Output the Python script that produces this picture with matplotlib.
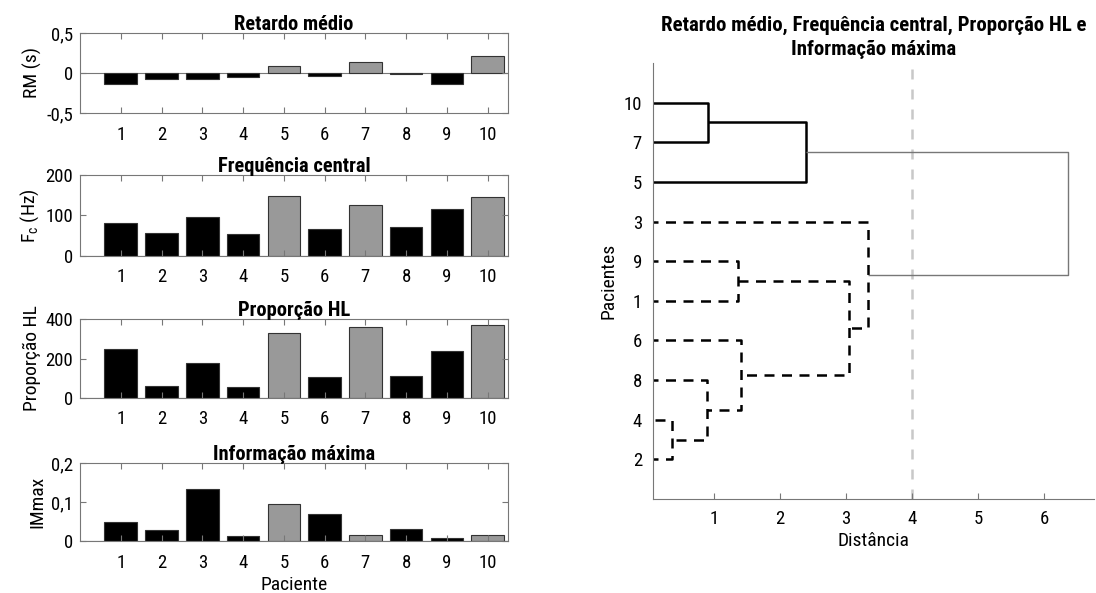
import numpy as np
import matplotlib
matplotlib.use("Agg")
from matplotlib import pyplot as plt

plt.rcParams['font.family'] = ['Roboto Condensed', 'DejaVu Sans']
plt.rcParams['mathtext.fontset'] = 'custom'
plt.rcParams['mathtext.rm'] = 'Roboto Condensed'
plt.rcParams['font.size'] = 13.5

# data
pacientes = np.arange(1, 11)
grupo_cinza = [5, 7, 10]
rm = [-0.14, -0.07, -0.08, -0.05, 0.085, -0.04, 0.135, -0.015, -0.14, 0.21]
fc = [81, 57, 96, 55, 147, 67, 125, 72, 115, 146]
hl = [246, 59, 175, 56, 329, 108, 361, 111, 240, 370]
im = [0.048, 0.027, 0.134, 0.014, 0.095, 0.070, 0.015, 0.030, 0.008, 0.016]

# dendrogram: leaf order (bottom->top) and merges (new, a, b, distance)
folhas = ['2', '4', '8', '6', '1', '9', '3', '5', '7', '10']
ligacoes = [
    ('A', '2', '4', 0.37),
    ('B', '8', 'A', 0.90),
    ('C', '10', '7', 0.91),
    ('D', '9', '1', 1.36),
    ('E', '6', 'B', 1.41),
    ('F', 'C', '5', 2.40),
    ('G', 'D', 'E', 3.04),
    ('H', '3', 'G', 3.33),
    ('I', 'F', 'H', 6.35),
]
corte = 4

W, H = 1096, 593
fig = plt.figure(figsize=(W / 100, H / 100), dpi=100)

def ax_px(l, t, r, b):
    return fig.add_axes([l / W, 1 - b / H, (r - l) / W, (b - t) / H])

spine_c = '#777777'
cores = ['#999999' if p in grupo_cinza else 'black' for p in pacientes]

paineis = [
    (rm, 'Retardo médio', 'RM (s)', (-0.5, 0.5), [-0.5, 0, 0.5], ['-0,5', '0', '0,5'], 33, 113),
    (fc, 'Frequência central', r'F$_\mathrm{c}$ (Hz)', (0, 200), [0, 100, 200], ['0', '100', '200'], 175, 256),
    (hl, 'Proporção HL', 'Proporção HL', (0, 400), [0, 200, 400], ['0', '200', '400'], 319, 398),
    (im, 'Informação máxima', 'IMmax', (0, 0.2), [0, 0.1, 0.2], ['0', '0,1', '0,2'], 463, 541),
]

for vals, tit, ylab, ylim, yt, ytl, top, bot in paineis:
    ax = ax_px(80, top, 508, bot)
    ax.bar(pacientes, vals, width=0.8, color=cores, edgecolor='#333333', linewidth=0.8)
    ax.axhline(0, color=spine_c, lw=0.8, zorder=0)
    ax.set_xlim(0, 10.5)
    ax.set_ylim(*ylim)
    ax.set_xticks(pacientes)
    ax.set_yticks(yt)
    ax.set_yticklabels(ytl)
    ax.tick_params(direction='in', length=4, color=spine_c, top=True, right=True)
    ax.tick_params(axis='x', pad=9)
    ax.tick_params(axis='y', pad=5)
    for s in ax.spines.values():
        s.set_color(spine_c)
        s.set_linewidth(0.8)
    ax.set_title(tit, fontweight='bold', fontsize=14.8, pad=2)
    ax.set_ylabel(ylab, fontsize=14, labelpad=3)
ax.set_xlabel('Paciente', fontsize=14, labelpad=3)

# dendrogram
axd = ax_px(653, 63, 1094, 499)
pos = {f: (0.0, i + 1) for i, f in enumerate(folhas)}
membros = {f: {f} for f in folhas}
grupo_sup = {'10', '7', '5'}
for novo, a, b, d in ligacoes:
    xa, ya = pos[a]
    xb, yb = pos[b]
    m = membros[a] | membros[b]
    if m <= grupo_sup:
        kw = dict(color='black', lw=1.8, ls='-')
    elif m.isdisjoint(grupo_sup):
        kw = dict(color='black', lw=1.8, ls=(0, (4, 3)))
    else:
        kw = dict(color='#777777', lw=1.0, ls='-')
    axd.plot([xa, d, d, xb], [ya, ya, yb, yb], solid_capstyle='butt',
             dash_capstyle='butt', **kw)
    pos[novo] = (d, (ya + yb) / 2)
    membros[novo] = m

axd.axvline(corte, color='#c8c8c8', lw=1.8, ls=(0, (4, 4)), zorder=0)
axd.set_xlim(0.08, 6.75)
axd.set_ylim(0, 11)
axd.set_xticks(range(1, 7))
axd.set_yticks(range(1, 11))
axd.set_yticklabels(folhas)
axd.tick_params(direction='in', length=4, color=spine_c)
axd.tick_params(axis='x', pad=8)
axd.tick_params(axis='y', length=0, pad=8)
for k in ['top', 'right']:
    axd.spines[k].set_visible(False)
for k in ['left', 'bottom']:
    axd.spines[k].set_color(spine_c)
    axd.spines[k].set_linewidth(0.8)
axd.set_xlabel('Distância', fontsize=14, labelpad=3)
axd.set_ylabel('Pacientes', fontsize=14, labelpad=4)
axd.set_title('Retardo médio, Frequência central, Proporção HL e\nInformação máxima',
              fontweight='bold', fontsize=15, pad=6, linespacing=1.3)

fig.savefig('out.png', dpi=100)
